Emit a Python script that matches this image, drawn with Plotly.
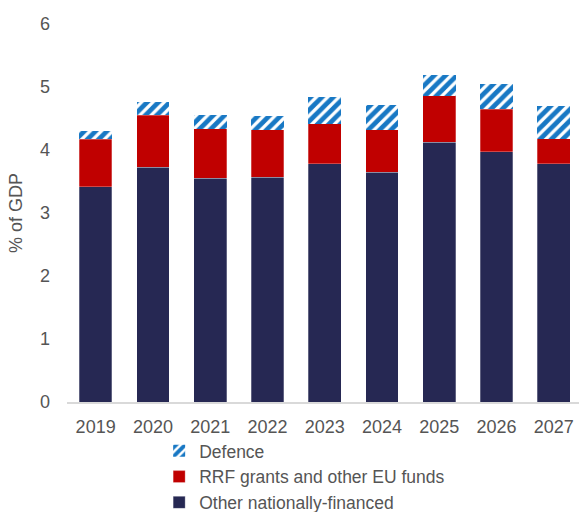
import plotly.graph_objects as go

years = ["2019", "2020", "2021", "2022", "2023", "2024", "2025", "2026", "2027"]
other_national = [3.42, 3.73, 3.55, 3.57, 3.78, 3.65, 4.12, 3.97, 3.78]
rrf_eu_funds = [0.75, 0.82, 0.79, 0.75, 0.64, 0.67, 0.74, 0.68, 0.40]
defence = [0.13, 0.21, 0.22, 0.22, 0.42, 0.39, 0.33, 0.40, 0.52]

NAVY = "#262853"
RED = "#C00000"
BLUE = "#1878C4"
TEXT = "#555555"
FS = 18

fig = go.Figure()
fig.add_trace(go.Bar(
    x=years, y=other_national, name="Other nationally-financed",
    marker=dict(color=NAVY, line=dict(width=0.6, color="rgba(255,255,255,0.45)")),
))
fig.add_trace(go.Bar(
    x=years, y=rrf_eu_funds, name="RRF grants and other EU funds",
    marker=dict(color=RED, line=dict(width=0.6, color="rgba(255,255,255,0.45)")),
))
fig.add_trace(go.Bar(
    x=years, y=defence, name="Defence",
    marker=dict(
        color="white",
        line=dict(width=0),
        pattern=dict(shape="/", fgcolor=BLUE, bgcolor="white", size=8, solidity=0.6,
                     fgopacity=1),
    ),
))

fig.update_layout(
    width=579, height=512,
    barmode="stack", bargap=0.43,
    margin=dict(l=67, r=0, t=24, b=110, autoexpand=False),
    paper_bgcolor="white", plot_bgcolor="white",
    font=dict(family="Liberation Sans, Arial, sans-serif", size=FS, color=TEXT),
    showlegend=True,
    legend=dict(
        traceorder="reversed", orientation="v",
        x=0.18, xanchor="left", y=-0.082, yanchor="top",
        font=dict(size=17.5, color=TEXT), itemwidth=30,
        bgcolor="rgba(0,0,0,0)",
    ),
    xaxis=dict(
        range=[-0.5, 8.44], showline=True, linecolor="#D9D9D9", linewidth=1.5,
        ticks="", showgrid=False, tickfont=dict(size=FS, color=TEXT),
        ticklabelstandoff=8,
    ),
    yaxis=dict(
        range=[0, 6], dtick=1, showgrid=False, zeroline=False, showline=False,
        tickfont=dict(size=FS, color=TEXT), ticklabelstandoff=16,
        title=dict(text="% of GDP", font=dict(size=FS, color=TEXT), standoff=12),
    ),
)

fig.write_html("out.html")
